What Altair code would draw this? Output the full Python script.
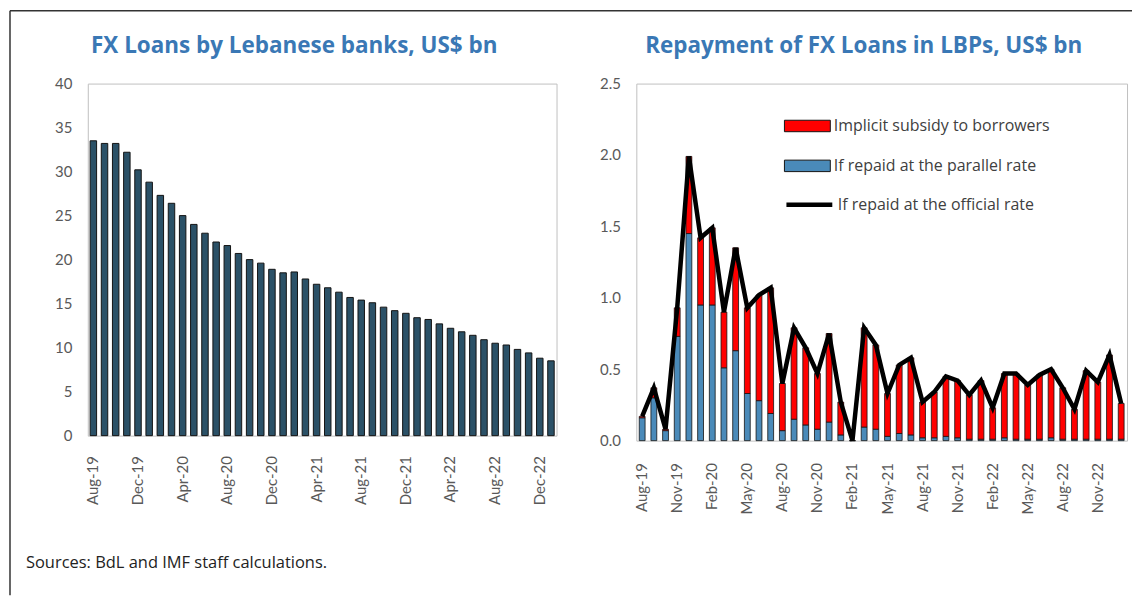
import altair as alt
import pandas as pd

# ---------------- data ----------------
months = list(pd.date_range("2019-08-01", periods=42, freq="MS").strftime("%b-%y"))

fx_loans = [33.5, 33.2, 33.2, 32.2, 30.2, 28.8, 27.3, 26.4, 25.0, 24.0,
            23.0, 22.0, 21.6, 20.7, 20.0, 19.6, 18.9, 18.5, 18.6, 17.8,
            17.2, 16.8, 16.3, 15.7, 15.4, 15.1, 14.6, 14.2, 13.9, 13.4,
            13.2, 12.7, 12.2, 11.8, 11.4, 10.9, 10.5, 10.3, 9.8, 9.4,
            8.8, 8.5]

official = [0.17, 0.37, 0.08, 0.93, 1.99, 1.42, 1.49, 0.90, 1.35, 0.93,
            1.02, 1.07, 0.40, 0.79, 0.65, 0.47, 0.75, 0.27, 0.00, 0.79,
            0.67, 0.33, 0.53, 0.58, 0.27, 0.34, 0.45, 0.42, 0.32, 0.42,
            0.23, 0.47, 0.47, 0.39, 0.46, 0.50, 0.37, 0.22, 0.49, 0.41,
            0.60, 0.26]

parallel = [0.16, 0.30, 0.07, 0.73, 1.45, 0.95, 0.95, 0.51, 0.63, 0.33,
            0.28, 0.19, 0.07, 0.15, 0.11, 0.08, 0.13, 0.04, 0.00, 0.095,
            0.08, 0.03, 0.05, 0.04, 0.02, 0.02, 0.03, 0.02, 0.01, 0.01,
            0.01, 0.02, 0.01, 0.01, 0.01, 0.02, 0.01, 0.01, 0.01, 0.01,
            0.01, 0.01]

left_ticks = ["Aug-19", "Dec-19", "Apr-20", "Aug-20", "Dec-20", "Apr-21",
              "Aug-21", "Dec-21", "Apr-22", "Aug-22", "Dec-22"]
right_ticks = ["Aug-19", "Nov-19", "Feb-20", "May-20", "Aug-20", "Nov-20",
               "Feb-21", "May-21", "Aug-21", "Nov-21", "Feb-22", "May-22",
               "Aug-22", "Nov-22"]
left_y_ticks = [0, 5, 10, 15, 20, 25, 30, 35, 40]
right_y_ticks = [0, 0.5, 1.0, 1.5, 2.0, 2.5]

LEFT_TITLE = "FX Loans by Lebanese banks, US$ bn"
RIGHT_TITLE = "Repayment of FX Loans in LBPs, US$ bn"
SOURCE_NOTE = "Sources: BdL and IMF staff calculations."

SUBSIDY = "Implicit subsidy to borrowers"
PARALLEL = "If repaid at the parallel rate"
OFFICIAL = "If repaid at the official rate"

subsidy = [round(o - p, 3) for o, p in zip(official, parallel)]

left_df = pd.DataFrame({"month": months, "value": fx_loans})
stack_df = pd.DataFrame({
    "month": months * 2,
    "series": [PARALLEL] * len(months) + [SUBSIDY] * len(months),
    "value": parallel + subsidy,
    "ord": [0] * len(months) + [1] * len(months),
})
line_df = pd.DataFrame({"month": months, "value": official, "series": OFFICIAL})
one_df = pd.DataFrame({"k": [0]})

# ---------------- style ----------------
LW, LH = 470, 353
RW, RH = 492, 358
LABEL_FONT = "Lato"
NOTE_FONT = "Open Sans"
TITLE_FONT = "Open Sans"
TITLE_COLOR = "#3a78b5"
AX_COLOR = "#595959"


def x_axis(ticks, pad):
    return alt.Axis(values=ticks, labelAngle=-90, labelAlign="right",
                    labelBaseline="middle", labelPadding=pad, ticks=False,
                    domain=False, labelFont=LABEL_FONT, labelFontSize=15,
                    labelColor=AX_COLOR, grid=False)


def y_axis(ticks, fmt):
    return alt.Axis(values=ticks, format=fmt, ticks=False, domain=False,
                    grid=False, labelPadding=16, labelFont=LABEL_FONT,
                    labelFontSize=15, labelColor=AX_COLOR)


def title_mark(text, x):
    return alt.Chart(one_df).mark_text(
        text=text, font=TITLE_FONT, fontSize=22.5, fontWeight="bold",
        color=TITLE_COLOR, align="center", baseline="middle"
    ).encode(x=alt.value(x), y=alt.value(-38))


# ---------------- left panel ----------------
bars_left = alt.Chart(left_df).mark_bar(
    fill="#2b5167", stroke="#141414", strokeWidth=1
).encode(
    x=alt.X("month:N", sort=months, title=None,
            scale=alt.Scale(paddingInner=0.42, paddingOuter=0.21),
            axis=x_axis(left_ticks, 20)),
    y=alt.Y("value:Q", title=None, scale=alt.Scale(domain=[0, 40]),
            axis=y_axis(left_y_ticks, "d")),
)

frame_top = alt.Chart(one_df).mark_rule(stroke="#333333", strokeWidth=1.5).encode(
    x=alt.value(-78), x2=alt.value(1047), y=alt.value(-73))
frame_left = alt.Chart(one_df).mark_rule(stroke="#333333", strokeWidth=1.5).encode(
    x=alt.value(-78), y=alt.value(-73), y2=alt.value(513))
source = alt.Chart(one_df).mark_text(
    text=SOURCE_NOTE, align="left", baseline="middle", font=NOTE_FONT,
    fontSize=16.5, color="#222222"
).encode(x=alt.value(-62), y=alt.value(481))

left = alt.layer(bars_left, frame_top, frame_left, source,
                 title_mark(LEFT_TITLE, 207)).properties(width=LW, height=LH)

# ---------------- right panel ----------------
x_right = alt.X("month:N", sort=months, title=None,
                scale=alt.Scale(paddingInner=0.5, paddingOuter=0.25),
                axis=x_axis(right_ticks, 22))
y_right = alt.Y("value:Q", title=None, stack="zero",
                scale=alt.Scale(domain=[0, 2.5]),
                axis=y_axis(right_y_ticks, ".1f"))

rect_path = "M-1,-0.25H1V0.25H-1Z"

bars_right = alt.Chart(stack_df).mark_bar(stroke="#141414", strokeWidth=0.8).encode(
    x=x_right,
    y=y_right,
    fill=alt.Fill("series:N",
                  scale=alt.Scale(domain=[SUBSIDY, PARALLEL],
                                  range=["#ff0000", "#4a8ab9"]),
                  legend=alt.Legend(title=None, orient="none", legendX=148,
                                    legendY=19, symbolType=rect_path,
                                    symbolSize=2116, symbolStrokeColor="#141414",
                                    symbolStrokeWidth=1, labelFont=NOTE_FONT,
                                    labelFontSize=16, labelColor="#404040",
                                    labelOffset=3, rowPadding=8,
                                    labelLimit=400)),
    order=alt.Order("ord:Q"),
)

line_right = alt.Chart(line_df).mark_line(strokeWidth=4.5).encode(
    x=x_right,
    y=alt.Y("value:Q", title=None, scale=alt.Scale(domain=[0, 2.5])),
    stroke=alt.Stroke("series:N",
                      scale=alt.Scale(domain=[OFFICIAL], range=["#000000"]),
                      legend=alt.Legend(title=None, orient="none", legendX=148,
                                        legendY=96, symbolType="stroke",
                                        symbolSize=2116, symbolStrokeWidth=4.5,
                                        labelFont=NOTE_FONT, labelFontSize=16,
                                        labelColor="#404040", labelOffset=3,
                                        labelLimit=400)),
)

right = alt.layer(bars_right, line_right,
                  title_mark(RIGHT_TITLE, 228)).resolve_legend(
    fill="independent", stroke="independent"
).properties(width=RW, height=RH)

chart = alt.hconcat(left, right, spacing=80, bounds="flush").properties(
    padding=0
).configure_view(stroke="#c0c0c0", strokeWidth=1)

chart.save("out.html", embed_options={"renderer": "svg", "actions": False})
